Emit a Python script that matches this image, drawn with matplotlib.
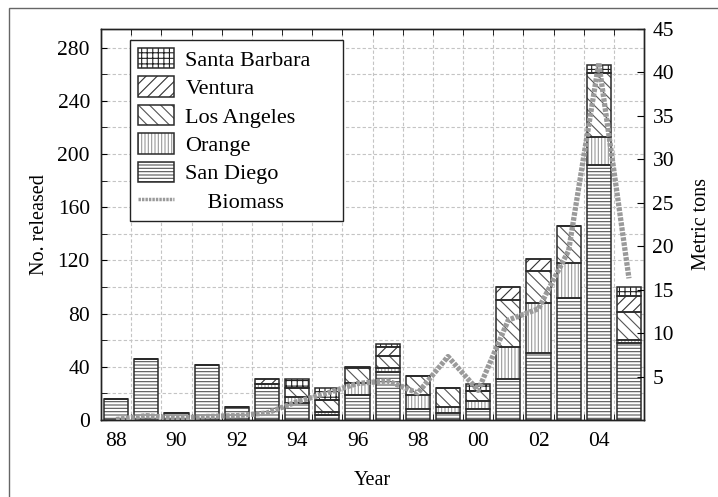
import numpy as np
import matplotlib
matplotlib.use("Agg")
import matplotlib.pyplot as plt
from matplotlib.patches import Patch, Rectangle
from matplotlib.lines import Line2D
from matplotlib.legend_handler import HandlerTuple

plt.rcParams['font.family'] = ['Liberation Serif', 'DejaVu Serif']
plt.rcParams['hatch.linewidth'] = 0.8

# ── Data ──────────────────────────────────────────────────────
years = ['88', '89', '90', '91', '92', '93', '94', '95', '96',
         '97', '98', '99', '00', '01', '02', '03', '04', '05']
san_diego     = [16, 46, 5, 41, 10, 24, 13, 4, 19, 36, 8, 5, 8, 31, 50, 92, 192, 58]
orange        = [0, 0, 0, 0, 0, 3, 4, 2, 9, 3, 11, 5, 6, 24, 38, 26, 21, 2]
los_angeles   = [0, 0, 0, 0, 0, 0, 7, 9, 11, 9, 14, 14, 8, 35, 24, 28, 48, 21]
ventura       = [0, 0, 0, 0, 0, 4, 0, 0, 1, 7, 0, 0, 0, 10, 9, 0, 0, 12]
santa_barbara = [0, 0, 0, 0, 0, 0, 7, 9, 0, 2, 0, 0, 5, 0, 0, 0, 6, 7]
biomass = [0.05, 0.5, 0.2, 0.4, 0.5, 0.8, 2.1, 3.1, 4.2, 4.5,
           3.1, 7.3, 3.4, 11.5, 12.8, 19.5, 41.1, 16.3]

# (name, values, hatch, hatch colour) bottom -> top
series = [
    ("San Diego",     san_diego,     "-----", "#555555"),
    ("Orange",        orange,        "|||||", "#999999"),
    ("Los Angeles",   los_angeles,   "\\\\\\", "#555555"),
    ("Ventura",       ventura,       "///",   "#333333"),
    ("Santa Barbara", santa_barbara, "+++",   "#222222"),
]

x = np.arange(len(years))
W = 0.8
EDGE = "#2a2a2a"

fig = plt.figure(figsize=(7.18, 4.97), dpi=100)
ax = fig.add_axes([0.1407, 0.155, 0.7563, 0.7866])
ax2 = ax.twinx()

# ── Stacked bars ──────────────────────────────────────────────
bottom = np.zeros(len(years))
handles = {}
for name, vals, hatch, hc in series:
    vals = np.array(vals, dtype=float)
    ax.bar(x, vals, W, bottom=bottom, color="white", edgecolor=hc,
           hatch=hatch, linewidth=0, zorder=2)
    ax.bar(x, vals, W, bottom=bottom, color="none", edgecolor=EDGE,
           linewidth=1.1, zorder=3)
    handles[name] = (Patch(facecolor="white", edgecolor=hc, hatch=hatch, linewidth=0),
                     Patch(facecolor="none", edgecolor=EDGE, linewidth=1.1))
    bottom += vals

# ── Biomass line ──────────────────────────────────────────────
ax2.plot(x, biomass, color="#9a9a9a", linewidth=3.8,
         dashes=(0.7, 0.25), solid_capstyle="butt", zorder=4)

# ── Axes cosmetics ────────────────────────────────────────────
ax.set_xlim(-0.5, len(years) - 0.5)
ax.set_ylim(0, 294)
ax2.set_ylim(0, 45)

ax.set_xticks(x[::2])
ax.set_xticklabels(years[::2])
ax.set_xticks(x[:-1] + 0.5, minor=True)
ax.set_yticks(np.arange(0, 281, 40))
ax.set_yticks(np.arange(20, 281, 40), minor=True)
ax2.set_yticks(np.arange(5, 46, 5))

ax.grid(True, which="minor", axis="x", color="#c4c4c4", linestyle=(0, (3, 2)), linewidth=0.8)
ax.grid(True, which="both", axis="y", color="#c4c4c4", linestyle=(0, (3, 2)), linewidth=0.8)
ax.set_axisbelow(True)

ax.tick_params(axis="x", which="major", length=0, pad=9, labelsize=15.5)
ax.tick_params(axis="x", which="minor", direction="in", length=4, top=True, bottom=True)
ax.tick_params(axis="y", which="both", direction="in", length=4, pad=8, labelsize=15.5)
ax2.tick_params(axis="y", direction="in", length=5, pad=6, labelsize=15.5)

for a in (ax, ax2):
    for s in a.spines.values():
        s.set_color("#222222")
        s.set_linewidth(1.0)

ax.set_xlabel("Year", fontsize=14.5, labelpad=14)
ax.set_ylabel("No. released", fontsize=14.5, labelpad=6)
ax2.set_ylabel("Metric tons", fontsize=14.5, labelpad=13)

# ── Legend ────────────────────────────────────────────────────
order = ["Santa Barbara", "Ventura", "Los Angeles", "Orange", "San Diego"]
leg_h = [handles[n] for n in order]
leg_h.append(Line2D([], [], color="#9a9a9a", linewidth=2.5, dashes=(0.7, 0.3)))
leg_l = order + ["    Biomass         "]
leg = ax.legend(leg_h, leg_l, loc="upper left", bbox_to_anchor=(0.053, 0.972),
                borderaxespad=0, fontsize=16, frameon=True, fancybox=False,
                edgecolor="#222222", framealpha=1, handlelength=1.65, handleheight=1.05,
                labelspacing=0.25, handletextpad=0.5, borderpad=0.35,
                handler_map={tuple: HandlerTuple(ndivide=1, pad=0)})
leg.get_frame().set_linewidth(1.0)
leg.set_zorder(10)

# figure border
fig.add_artist(Rectangle((9 / 718, -0.01), 1.0, 0.984 + 0.01, transform=fig.transFigure,
                         facecolor="none", edgecolor="#666666", linewidth=1.0))

fig.savefig("out.png", dpi=100)
